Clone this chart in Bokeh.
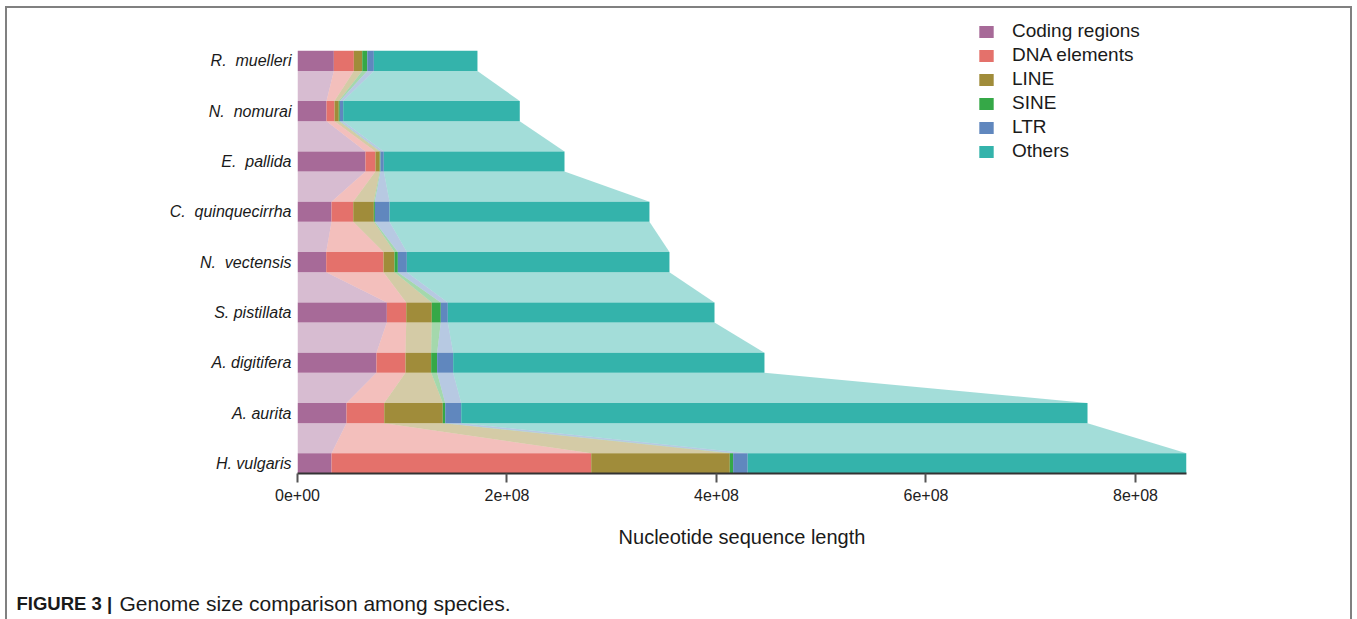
from bokeh.plotting import figure
from bokeh.layouts import column
from bokeh.models import Range1d, FixedTicker
from bokeh.core.properties import value
from bokeh.embed import file_html
from bokeh.resources import INLINE

# Genome composition per species (bp), listed top to bottom as drawn
species = [
    "R.\u00a0 muelleri",
    "N.\u00a0 nomurai",
    "E.\u00a0 pallida",
    "C.\u00a0 quinquecirrha",
    "N.\u00a0 vectensis",
    "S. pistillata",
    "A. digitifera",
    "A. aurita",
    "H. vulgaris",
]
coding = [3.47e7, 2.77e7, 6.49e7, 3.25e7, 2.74e7, 8.53e7, 7.54e7, 4.68e7, 3.25e7]
dna_elements = [1.91e7, 0.76e7, 0.95e7, 2.07e7, 5.47e7, 1.85e7, 2.77e7, 3.60e7, 2.479e8]
line_el = [0.80e7, 0.41e7, 0.41e7, 1.97e7, 1.05e7, 2.44e7, 2.45e7, 5.59e7, 1.323e8]
sine_el = [0.48e7, 0.10e7, 0.07e7, 0.10e7, 0.32e7, 0.86e7, 0.57e7, 0.23e7, 0.32e7]
ltr_el = [0.63e7, 0.32e7, 0.32e7, 1.40e7, 0.86e7, 0.67e7, 1.53e7, 1.53e7, 1.39e7]
others = [9.89e7, 16.86e7, 17.25e7, 24.81e7, 25.07e7, 25.46e7, 29.72e7, 59.79e7, 41.89e7]

categories = ["Coding regions", "DNA elements", "LINE", "SINE", "LTR", "Others"]
colors = ["#A76A98", "#E4716B", "#A08C3A", "#35A847", "#6087BE", "#34B3AB"]

x_ticks = [0, 2e8, 4e8, 6e8, 8e8]
x_tick_labels = ["0e+00", "2e+08", "4e+08", "6e+08", "8e+08"]

caption_head = "FIGURE 3 |"
caption_body = "Genome size comparison among species."

FONT = "Liberation Sans"
BAR_H = 0.4
BORDER = "2px solid #808080"

series = [coding, dna_elements, line_el, sine_el, ltr_el, others]
n = len(species)
ypos = [n - 1 - i for i in range(n)]

# stacked extents of each component
lefts, rights = [], []
acc = [0.0] * n
for s in series:
    lefts.append(acc[:])
    acc = [a + b for a, b in zip(acc, s)]
    rights.append(acc[:])
totals = acc

p = figure(
    width=1343, height=575,
    x_range=Range1d(0, max(totals)), y_range=Range1d(-0.2, 9.0),
    output_backend="svg", toolbar_location=None,
    min_border_left=290, min_border_right=164,
    min_border_top=2, min_border_bottom=110,
)
p.frame_align = False
p.background_fill_color = "white"
p.border_fill_color = "white"
p.outline_line_color = None
p.xgrid.visible = False
p.ygrid.visible = False

# translucent ribbons linking each component between neighbouring species
for c, color in enumerate(colors):
    xs, ys = [], []
    for k in range(n - 1):
        yu = ypos[k] - BAR_H / 2
        yl = ypos[k + 1] + BAR_H / 2
        xs.append([lefts[c][k], rights[c][k], rights[c][k + 1], lefts[c][k + 1]])
        ys.append([yu, yu, yl, yl])
    p.patches(xs, ys, fill_color=color, fill_alpha=0.45, line_color=None)

# stacked bars
for c, (cat, color) in enumerate(zip(categories, colors)):
    p.hbar(y=ypos, left=lefts[c], right=rights[c], height=BAR_H,
           fill_color=color, line_color=None, legend_label=cat)

# x axis
xa = p.xaxis[0]
xa.ticker = FixedTicker(ticks=x_ticks)
xa.major_label_overrides = {t: lab for t, lab in zip(x_ticks, x_tick_labels)}
xa.axis_line_color = "#333333"
xa.axis_line_width = 2
xa.major_tick_line_color = "#555555"
xa.major_tick_line_width = 2
xa.major_tick_out = 9
xa.major_tick_in = 0
xa.minor_tick_line_color = None
xa.major_label_standoff = 6
xa.major_label_text_font = FONT
xa.major_label_text_font_size = "16px"
xa.major_label_text_color = "#222222"
xa.axis_label = "Nucleotide sequence length"
xa.axis_label_text_font = FONT
xa.axis_label_text_font_size = "20px"
xa.axis_label_text_font_style = "normal"
xa.axis_label_text_color = "#1a1a1a"
xa.axis_label_standoff = 22

# y axis with species names
ya = p.yaxis[0]
ya.ticker = FixedTicker(ticks=ypos)
ya.major_label_overrides = {y: name for y, name in zip(ypos, species)}
ya.axis_line_color = None
ya.major_tick_line_color = None
ya.minor_tick_line_color = None
ya.major_tick_out = 0
ya.major_tick_in = 0
ya.major_label_standoff = 6
ya.major_label_text_font = FONT
ya.major_label_text_font_size = "16px"
ya.major_label_text_font_style = "italic"
ya.major_label_text_color = "#1a1a1a"

# legend
lg = p.legend[0]
lg.location = (680, 310)
lg.padding = 0
lg.margin = 0
lg.spacing = 0
lg.border_line_color = None
lg.background_fill_alpha = 0
lg.label_height = 24
lg.glyph_height = 15
lg.glyph_width = 18
lg.label_standoff = 17
lg.label_text_font = FONT
lg.label_text_font_size = "19px"
lg.label_text_color = "#1a1a1a"

# caption strip
cap = figure(
    width=1343, height=36,
    x_range=Range1d(0, 1343), y_range=Range1d(0, 36),
    output_backend="svg", toolbar_location=None,
    x_axis_location=None, y_axis_location=None, min_border=0,
)
cap.frame_align = False
cap.outline_line_color = None
cap.xgrid.visible = False
cap.ygrid.visible = False
cap.text(x=[9], y=[16], text=[caption_head], text_font=value(FONT),
         text_font_size="18.5px", text_font_style="bold",
         text_baseline="middle", text_color="#1a1a1a")
cap.text(x=[112], y=[16], text=[caption_body], text_font=value(FONT),
         text_font_size="21px", text_baseline="middle", text_color="#1a1a1a")

layout = column(
    p, cap, margin=(6, 5, 0, 5),
    styles={"border-top": BORDER, "border-left": BORDER, "border-right": BORDER,
            "background-color": "white"},
)

open("out.html", "w").write(file_html(layout, INLINE))
